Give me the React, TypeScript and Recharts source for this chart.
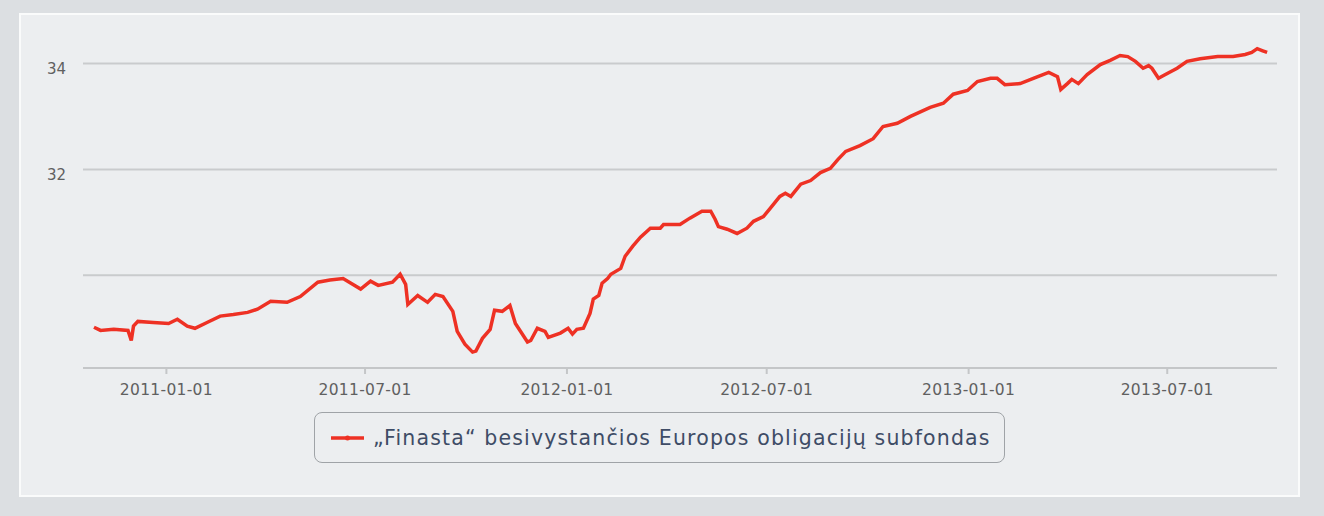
import { LineChart, Line, XAxis, YAxis, ReferenceLine, Legend } from "recharts";

// fund unit value
const dates = [
  "2010-10-27", "2010-11-02", "2010-11-14", "2010-11-27", "2010-11-30", "2010-12-02", "2010-12-06", "2010-12-20",
  "2011-01-03", "2011-01-11", "2011-01-20", "2011-01-27", "2011-02-07", "2011-02-19", "2011-03-03", "2011-03-16",
  "2011-03-25", "2011-04-06", "2011-04-21", "2011-05-03", "2011-05-19", "2011-05-30", "2011-06-11", "2011-06-27",
  "2011-07-06", "2011-07-13", "2011-07-26", "2011-08-02", "2011-08-07", "2011-08-09", "2011-08-18", "2011-08-27",
  "2011-09-03", "2011-09-10", "2011-09-19", "2011-09-23", "2011-09-30", "2011-10-07", "2011-10-10", "2011-10-16",
  "2011-10-23", "2011-10-27", "2011-11-03", "2011-11-10", "2011-11-15", "2011-11-26", "2011-11-29", "2011-12-05",
  "2011-12-12", "2011-12-15", "2011-12-26",
  "2012-01-02", "2012-01-06", "2012-01-10", "2012-01-16", "2012-01-22", "2012-01-25", "2012-01-30", "2012-02-02",
  "2012-02-07", "2012-02-10", "2012-02-19", "2012-02-23", "2012-03-01", "2012-03-08", "2012-03-17", "2012-03-26",
  "2012-03-29", "2012-04-13", "2012-04-22", "2012-05-03", "2012-05-11", "2012-05-15", "2012-05-18", "2012-05-26",
  "2012-06-04", "2012-06-13", "2012-06-19", "2012-06-28",
  "2012-07-04", "2012-07-13", "2012-07-18", "2012-07-23", "2012-08-01", "2012-08-10", "2012-08-19", "2012-08-28",
  "2012-09-04", "2012-09-11", "2012-09-24", "2012-10-06", "2012-10-15", "2012-10-28", "2012-11-09", "2012-11-27",
  "2012-12-09", "2012-12-18", "2012-12-31",
  "2013-01-09", "2013-01-21", "2013-01-27", "2013-02-03", "2013-02-17", "2013-03-01", "2013-03-15", "2013-03-23",
  "2013-03-26", "2013-04-01", "2013-04-05", "2013-04-11", "2013-04-19", "2013-05-01", "2013-05-10", "2013-05-19",
  "2013-05-26", "2013-06-02", "2013-06-09", "2013-06-14", "2013-06-17", "2013-06-23", "2013-07-01", "2013-07-10",
  "2013-07-19", "2013-07-31", "2013-08-16", "2013-08-30", "2013-09-10", "2013-09-16", "2013-09-21", "2013-09-26",
  "2013-09-30",
];

const values = [
  29.02, 28.96, 28.98, 28.96, 28.77, 29.04, 29.13, 29.11,
  29.09, 29.17, 29.04, 29.0, 29.11, 29.23, 29.26, 29.3,
  29.36, 29.51, 29.49, 29.6, 29.87, 29.91, 29.94, 29.74,
  29.89, 29.81, 29.87, 30.02, 29.83, 29.45, 29.62, 29.49,
  29.64, 29.6, 29.32, 28.94, 28.7, 28.55, 28.57, 28.81,
  28.98, 29.34, 29.32, 29.43, 29.09, 28.74, 28.77, 29.0,
  28.94, 28.83, 28.91,
  29.0, 28.89, 28.98, 29.0, 29.28, 29.55, 29.62, 29.85,
  29.94, 30.02, 30.13, 30.36, 30.55, 30.72, 30.89, 30.89,
  30.96, 30.96, 31.08, 31.21, 31.21, 31.06, 30.92, 30.87,
  30.79, 30.89, 31.02, 31.11,
  31.26, 31.49, 31.55, 31.49, 31.72, 31.79, 31.94, 32.02,
  32.19, 32.34, 32.45, 32.58, 32.81, 32.87, 33.0, 33.17,
  33.25, 33.42, 33.49,
  33.66, 33.72, 33.72, 33.6, 33.62, 33.72, 33.83, 33.75,
  33.51, 33.62, 33.7, 33.62, 33.79, 33.98, 34.06, 34.15,
  34.13, 34.04, 33.91, 33.96, 33.91, 33.72, 33.81, 33.91,
  34.04, 34.09, 34.13, 34.13, 34.17, 34.21, 34.28, 34.24,
  34.21,
];

const xTickDates = ["2011-01-01", "2011-07-01", "2012-01-01", "2012-07-01", "2013-01-01", "2013-07-01"];
const yTicks = [30, 32, 34];
const xRange = ["2010-10-17", "2013-10-09"];
const seriesName = "„Finasta“ besivystančios Europos obligacijų subfondas";

const toTs = (s: string) => {
  const [y, m, d] = s.split("-").map(Number);
  return Date.UTC(y, m - 1, d);
};

const fmtDate = (ts: number) => new Date(ts).toISOString().slice(0, 10);

const data = dates.map((d, i) => ({ t: toTs(d), v: values[i] }));

const RED = "#ee3124";
const FONT = "'DejaVu Sans', Verdana, sans-serif";

// y labels sit a little under their gridline, the 30 line has no label
function YTick({ x, y, payload }: any) {
  if (payload.value === 30) return null;
  return (
    <text x={x} y={y + 11} textAnchor="end" fill="#606060" fontSize={15} fontFamily={FONT}>
      {payload.value}
    </text>
  );
}

function LegendBox() {
  return (
    <div
      style={{
        boxSizing: "border-box",
        width: 691,
        height: 51,
        border: "1.5px solid #9fa3a7",
        borderRadius: 8,
        display: "flex",
        alignItems: "center",
        paddingLeft: 16,
      }}
    >
      <svg width={33} height={10} style={{ marginRight: 9 }}>
        <line x1={0} y1={5} x2={33} y2={5} stroke={RED} strokeWidth={3.5} />
        <circle cx={16.5} cy={5} r={2.5} fill={RED} />
      </svg>
      <span
        style={{
          fontFamily: FONT,
          fontSize: 20.5,
          letterSpacing: 1.15,
          color: "#3e4c66",
          whiteSpace: "nowrap",
        }}
      >
        {seriesName}
      </span>
    </div>
  );
}

export default function App() {
  return (
    <div style={{ position: "fixed", left: 0, top: 0, width: 1324, height: 516, background: "#dcdfe2" }}>
      <div
        style={{
          position: "absolute",
          left: 19,
          top: 13,
          width: 1281,
          height: 484,
          boxSizing: "border-box",
          background: "#eceef0",
          border: "2px solid #fafbfb",
        }}
      />
      <div style={{ position: "absolute", left: 0, top: 0 }}>
        <LineChart width={1324} height={516} data={data} margin={{ top: 37, right: 47, bottom: 108, left: 23 }}>
          {yTicks.map((v) => (
            <ReferenceLine key={v} y={v} stroke="#c9cbcd" strokeWidth={2} />
          ))}
          <XAxis
            dataKey="t"
            type="number"
            domain={[toTs(xRange[0]), toTs(xRange[1])]}
            ticks={xTickDates.map(toTs)}
            tickFormatter={fmtDate}
            height={40}
            axisLine={{ stroke: "#c4c6c8", strokeWidth: 2 }}
            tickLine={{ stroke: "#c4c6c8", strokeWidth: 2 }}
            tickSize={6}
            tickMargin={10}
            tick={{ fill: "#606060", fontSize: 15.5, fontFamily: FONT, letterSpacing: 0.3 }}
            allowDataOverflow
          />
          <YAxis
            type="number"
            domain={[28.25, 34.5]}
            ticks={yTicks}
            width={60}
            axisLine={false}
            tickLine={false}
            tickSize={0}
            tickMargin={17}
            tick={<YTick />}
            allowDataOverflow
          />
          <Legend
            layout="horizontal"
            verticalAlign="middle"
            align="center"
            content={() => <LegendBox />}
            wrapperStyle={{ left: 314, top: 412, width: 691, height: 51 }}
          />
          <Line
            type="linear"
            dataKey="v"
            name={seriesName}
            stroke={RED}
            strokeWidth={3.5}
            dot={false}
            isAnimationActive={false}
          />
        </LineChart>
      </div>
    </div>
  );
}
